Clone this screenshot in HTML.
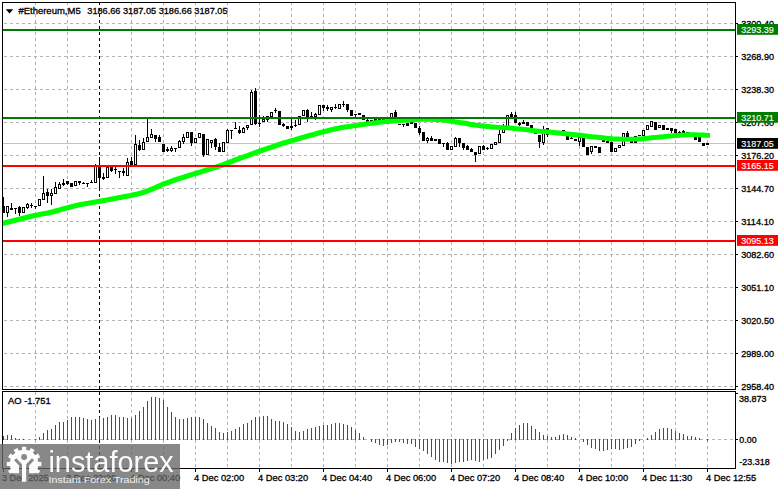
<!DOCTYPE html>
<html><head><meta charset="utf-8"><title>#Ethereum,M5</title>
<style>
html,body{margin:0;padding:0;background:#fff;}
body{width:781px;height:489px;overflow:hidden;font-family:"Liberation Sans",sans-serif;}
svg{display:block;}
svg text{font-family:"Liberation Sans",sans-serif;}
</style></head><body>
<svg width="781" height="489" viewBox="0 0 781 489">
<rect x="0" y="0" width="781" height="489" fill="#fff"/>
<g stroke="#b2b2b2" stroke-width="1" fill="none" shape-rendering="crispEdges">
<line x1="4" y1="23.5" x2="735" y2="23.5" stroke-dasharray="3 3"/>
<line x1="4" y1="56.5" x2="735" y2="56.5" stroke-dasharray="3 3"/>
<line x1="4" y1="89.5" x2="735" y2="89.5" stroke-dasharray="3 3"/>
<line x1="4" y1="122.5" x2="735" y2="122.5" stroke-dasharray="3 3"/>
<line x1="4" y1="155.5" x2="735" y2="155.5" stroke-dasharray="3 3"/>
<line x1="4" y1="188.5" x2="735" y2="188.5" stroke-dasharray="3 3"/>
<line x1="4" y1="221.5" x2="735" y2="221.5" stroke-dasharray="3 3"/>
<line x1="4" y1="254.5" x2="735" y2="254.5" stroke-dasharray="3 3"/>
<line x1="4" y1="287.5" x2="735" y2="287.5" stroke-dasharray="3 3"/>
<line x1="4" y1="320.5" x2="735" y2="320.5" stroke-dasharray="3 3"/>
<line x1="4" y1="353.5" x2="735" y2="353.5" stroke-dasharray="3 3"/>
<line x1="4" y1="386.5" x2="735" y2="386.5" stroke-dasharray="3 3"/>
<line x1="4" y1="439.5" x2="735" y2="439.5" stroke-dasharray="3 3"/>
<line x1="35.5" y1="2" x2="35.5" y2="389" stroke-dasharray="3 3"/>
<line x1="35.5" y1="392" x2="35.5" y2="468" stroke-dasharray="3 3"/>
<line x1="67.5" y1="2" x2="67.5" y2="389" stroke-dasharray="3 3"/>
<line x1="67.5" y1="392" x2="67.5" y2="468" stroke-dasharray="3 3"/>
<line x1="131.5" y1="2" x2="131.5" y2="389" stroke-dasharray="3 3"/>
<line x1="131.5" y1="392" x2="131.5" y2="468" stroke-dasharray="3 3"/>
<line x1="163.5" y1="2" x2="163.5" y2="389" stroke-dasharray="3 3"/>
<line x1="163.5" y1="392" x2="163.5" y2="468" stroke-dasharray="3 3"/>
<line x1="195.5" y1="2" x2="195.5" y2="389" stroke-dasharray="3 3"/>
<line x1="195.5" y1="392" x2="195.5" y2="468" stroke-dasharray="3 3"/>
<line x1="227.5" y1="2" x2="227.5" y2="389" stroke-dasharray="3 3"/>
<line x1="227.5" y1="392" x2="227.5" y2="468" stroke-dasharray="3 3"/>
<line x1="259.5" y1="2" x2="259.5" y2="389" stroke-dasharray="3 3"/>
<line x1="259.5" y1="392" x2="259.5" y2="468" stroke-dasharray="3 3"/>
<line x1="291.5" y1="2" x2="291.5" y2="389" stroke-dasharray="3 3"/>
<line x1="291.5" y1="392" x2="291.5" y2="468" stroke-dasharray="3 3"/>
<line x1="323.5" y1="2" x2="323.5" y2="389" stroke-dasharray="3 3"/>
<line x1="323.5" y1="392" x2="323.5" y2="468" stroke-dasharray="3 3"/>
<line x1="355.5" y1="2" x2="355.5" y2="389" stroke-dasharray="3 3"/>
<line x1="355.5" y1="392" x2="355.5" y2="468" stroke-dasharray="3 3"/>
<line x1="387.5" y1="2" x2="387.5" y2="389" stroke-dasharray="3 3"/>
<line x1="387.5" y1="392" x2="387.5" y2="468" stroke-dasharray="3 3"/>
<line x1="419.5" y1="2" x2="419.5" y2="389" stroke-dasharray="3 3"/>
<line x1="419.5" y1="392" x2="419.5" y2="468" stroke-dasharray="3 3"/>
<line x1="451.5" y1="2" x2="451.5" y2="389" stroke-dasharray="3 3"/>
<line x1="451.5" y1="392" x2="451.5" y2="468" stroke-dasharray="3 3"/>
<line x1="483.5" y1="2" x2="483.5" y2="389" stroke-dasharray="3 3"/>
<line x1="483.5" y1="392" x2="483.5" y2="468" stroke-dasharray="3 3"/>
<line x1="515.5" y1="2" x2="515.5" y2="389" stroke-dasharray="3 3"/>
<line x1="515.5" y1="392" x2="515.5" y2="468" stroke-dasharray="3 3"/>
<line x1="547.5" y1="2" x2="547.5" y2="389" stroke-dasharray="3 3"/>
<line x1="547.5" y1="392" x2="547.5" y2="468" stroke-dasharray="3 3"/>
<line x1="579.5" y1="2" x2="579.5" y2="389" stroke-dasharray="3 3"/>
<line x1="579.5" y1="392" x2="579.5" y2="468" stroke-dasharray="3 3"/>
<line x1="611.5" y1="2" x2="611.5" y2="389" stroke-dasharray="3 3"/>
<line x1="611.5" y1="392" x2="611.5" y2="468" stroke-dasharray="3 3"/>
<line x1="643.5" y1="2" x2="643.5" y2="389" stroke-dasharray="3 3"/>
<line x1="643.5" y1="392" x2="643.5" y2="468" stroke-dasharray="3 3"/>
<line x1="675.5" y1="2" x2="675.5" y2="389" stroke-dasharray="3 3"/>
<line x1="675.5" y1="392" x2="675.5" y2="468" stroke-dasharray="3 3"/>
<line x1="707.5" y1="2" x2="707.5" y2="389" stroke-dasharray="3 3"/>
<line x1="707.5" y1="392" x2="707.5" y2="468" stroke-dasharray="3 3"/>
</g>
<g stroke="#000" stroke-width="1" shape-rendering="crispEdges"><line x1="99.5" y1="2" x2="99.5" y2="389" stroke-dasharray="3 3"/><line x1="99.5" y1="392" x2="99.5" y2="468" stroke-dasharray="3 3"/></g>
<rect x="3" y="143" width="732" height="1" fill="#c4c4c4"/>
<g fill="#000" shape-rendering="crispEdges">
<rect x="3" y="197" width="1" height="16"/><rect x="2" y="206" width="3" height="7"/>
<rect x="7" y="206" width="1" height="11"/><rect x="6" y="206" width="3" height="7"/><rect x="7" y="207" width="1" height="5" fill="#fff"/>
<rect x="11" y="203" width="1" height="7"/><rect x="10" y="208" width="3" height="2"/>
<rect x="15" y="208" width="1" height="6"/><rect x="14" y="208" width="3" height="1"/>
<rect x="19" y="206" width="1" height="10"/><rect x="18" y="207" width="3" height="6"/>
<rect x="23" y="207" width="1" height="6"/><rect x="22" y="207" width="3" height="6"/><rect x="23" y="208" width="1" height="4" fill="#fff"/>
<rect x="27" y="203" width="1" height="6"/><rect x="26" y="204" width="3" height="4"/><rect x="27" y="205" width="1" height="2" fill="#fff"/>
<rect x="31" y="203" width="1" height="5"/><rect x="30" y="205" width="3" height="1"/>
<rect x="35" y="206" width="1" height="3"/><rect x="34" y="206" width="3" height="1"/>
<rect x="39" y="199" width="1" height="7"/><rect x="38" y="199" width="3" height="7"/><rect x="39" y="200" width="1" height="5" fill="#fff"/>
<rect x="43" y="176" width="1" height="24"/><rect x="42" y="193" width="3" height="7"/><rect x="43" y="194" width="1" height="5" fill="#fff"/>
<rect x="47" y="189" width="1" height="14"/><rect x="46" y="192" width="3" height="4"/>
<rect x="51" y="189" width="1" height="16"/><rect x="50" y="193" width="3" height="3"/><rect x="51" y="194" width="1" height="1" fill="#fff"/>
<rect x="55" y="182" width="1" height="12"/><rect x="54" y="187" width="3" height="7"/><rect x="55" y="188" width="1" height="5" fill="#fff"/>
<rect x="59" y="182" width="1" height="7"/><rect x="58" y="184" width="3" height="5"/><rect x="59" y="185" width="1" height="3" fill="#fff"/>
<rect x="63" y="179" width="1" height="7"/><rect x="62" y="183" width="3" height="2"/>
<rect x="67" y="181" width="1" height="4"/><rect x="66" y="181" width="3" height="3"/>
<rect x="71" y="183" width="1" height="4"/><rect x="70" y="183" width="3" height="4"/>
<rect x="75" y="181" width="1" height="5"/><rect x="74" y="181" width="3" height="5"/><rect x="75" y="182" width="1" height="3" fill="#fff"/>
<rect x="79" y="181" width="1" height="4"/><rect x="78" y="181" width="3" height="2"/>
<rect x="83" y="182" width="1" height="2"/><rect x="82" y="183" width="3" height="1"/>
<rect x="87" y="183" width="1" height="4"/><rect x="86" y="183" width="3" height="1"/>
<rect x="91" y="180" width="1" height="3"/><rect x="90" y="182" width="3" height="1"/>
<rect x="95" y="164" width="1" height="19"/><rect x="94" y="165" width="3" height="18"/><rect x="95" y="166" width="1" height="16" fill="#fff"/>
<rect x="99" y="157" width="1" height="34"/><rect x="98" y="167" width="3" height="11"/>
<rect x="103" y="173" width="1" height="7"/><rect x="102" y="177" width="3" height="2"/>
<rect x="107" y="167" width="1" height="11"/><rect x="106" y="167" width="3" height="11"/><rect x="107" y="168" width="1" height="9" fill="#fff"/>
<rect x="111" y="167" width="1" height="5"/><rect x="110" y="167" width="3" height="4"/>
<rect x="115" y="167" width="1" height="7"/><rect x="114" y="169" width="3" height="1"/>
<rect x="119" y="171" width="1" height="7"/><rect x="118" y="171" width="3" height="1"/>
<rect x="123" y="168" width="1" height="8"/><rect x="122" y="171" width="3" height="2"/>
<rect x="127" y="158" width="1" height="18"/><rect x="126" y="162" width="3" height="14"/><rect x="127" y="163" width="1" height="12" fill="#fff"/>
<rect x="131" y="157" width="1" height="10"/><rect x="130" y="161" width="3" height="4"/>
<rect x="135" y="135" width="1" height="30"/><rect x="134" y="144" width="3" height="21"/><rect x="135" y="145" width="1" height="19" fill="#fff"/>
<rect x="139" y="140" width="1" height="11"/><rect x="138" y="145" width="3" height="5"/>
<rect x="143" y="138" width="1" height="12"/><rect x="142" y="142" width="3" height="8"/><rect x="143" y="143" width="1" height="6" fill="#fff"/>
<rect x="147" y="119" width="1" height="23"/><rect x="146" y="137" width="3" height="5"/><rect x="147" y="138" width="1" height="3" fill="#fff"/>
<rect x="151" y="129" width="1" height="9"/><rect x="150" y="134" width="3" height="4"/><rect x="151" y="135" width="1" height="2" fill="#fff"/>
<rect x="155" y="135" width="1" height="7"/><rect x="154" y="135" width="3" height="4"/>
<rect x="159" y="135" width="1" height="7"/><rect x="158" y="137" width="3" height="5"/>
<rect x="163" y="144" width="1" height="8"/><rect x="162" y="144" width="3" height="8"/>
<rect x="167" y="147" width="1" height="5"/><rect x="166" y="149" width="3" height="2"/>
<rect x="171" y="146" width="1" height="6"/><rect x="170" y="148" width="3" height="3"/><rect x="171" y="149" width="1" height="1" fill="#fff"/>
<rect x="175" y="148" width="1" height="4"/><rect x="174" y="148" width="3" height="1"/>
<rect x="179" y="140" width="1" height="8"/><rect x="178" y="141" width="3" height="7"/><rect x="179" y="142" width="1" height="5" fill="#fff"/>
<rect x="183" y="134" width="1" height="10"/><rect x="182" y="137" width="3" height="5"/><rect x="183" y="138" width="1" height="3" fill="#fff"/>
<rect x="187" y="132" width="1" height="6"/><rect x="186" y="132" width="3" height="6"/><rect x="187" y="133" width="1" height="4" fill="#fff"/>
<rect x="191" y="132" width="1" height="14"/><rect x="190" y="132" width="3" height="11"/>
<rect x="195" y="138" width="1" height="5"/><rect x="194" y="138" width="3" height="5"/><rect x="195" y="139" width="1" height="3" fill="#fff"/>
<rect x="199" y="133" width="1" height="5"/><rect x="198" y="133" width="3" height="5"/><rect x="199" y="134" width="1" height="3" fill="#fff"/>
<rect x="203" y="134" width="1" height="23"/><rect x="202" y="134" width="3" height="21"/>
<rect x="207" y="139" width="1" height="16"/><rect x="206" y="139" width="3" height="16"/><rect x="207" y="140" width="1" height="14" fill="#fff"/>
<rect x="211" y="140" width="1" height="8"/><rect x="210" y="140" width="3" height="3"/><rect x="211" y="141" width="1" height="1" fill="#fff"/>
<rect x="215" y="138" width="1" height="12"/><rect x="214" y="139" width="3" height="8"/>
<rect x="219" y="143" width="1" height="9"/><rect x="218" y="147" width="3" height="5"/>
<rect x="223" y="142" width="1" height="10"/><rect x="222" y="142" width="3" height="10"/><rect x="223" y="143" width="1" height="8" fill="#fff"/>
<rect x="227" y="129" width="1" height="14"/><rect x="226" y="130" width="3" height="13"/><rect x="227" y="131" width="1" height="11" fill="#fff"/>
<rect x="231" y="130" width="1" height="9"/><rect x="230" y="130" width="3" height="1"/>
<rect x="235" y="122" width="1" height="7"/><rect x="234" y="128" width="3" height="1"/>
<rect x="239" y="126" width="1" height="8"/><rect x="238" y="130" width="3" height="3"/>
<rect x="243" y="127" width="1" height="6"/><rect x="242" y="128" width="3" height="5"/><rect x="243" y="129" width="1" height="3" fill="#fff"/>
<rect x="247" y="125" width="1" height="5"/><rect x="246" y="125" width="3" height="3"/><rect x="247" y="126" width="1" height="1" fill="#fff"/>
<rect x="251" y="90" width="1" height="35"/><rect x="250" y="92" width="3" height="33"/><rect x="251" y="93" width="1" height="31" fill="#fff"/>
<rect x="255" y="88" width="1" height="37"/><rect x="254" y="91" width="3" height="33"/>
<rect x="259" y="115" width="1" height="12"/><rect x="258" y="123" width="3" height="1"/>
<rect x="263" y="116" width="1" height="6"/><rect x="262" y="119" width="3" height="3"/><rect x="263" y="120" width="1" height="1" fill="#fff"/>
<rect x="267" y="116" width="1" height="6"/><rect x="266" y="116" width="3" height="4"/><rect x="267" y="117" width="1" height="2" fill="#fff"/>
<rect x="271" y="112" width="1" height="5"/><rect x="270" y="112" width="3" height="5"/><rect x="271" y="113" width="1" height="3" fill="#fff"/>
<rect x="275" y="108" width="1" height="5"/><rect x="274" y="110" width="3" height="1"/>
<rect x="279" y="111" width="1" height="14"/><rect x="278" y="111" width="3" height="14"/>
<rect x="283" y="123" width="1" height="4"/><rect x="282" y="124" width="3" height="2"/>
<rect x="287" y="126" width="1" height="3"/><rect x="286" y="126" width="3" height="3"/>
<rect x="291" y="119" width="1" height="11"/><rect x="290" y="126" width="3" height="2"/>
<rect x="295" y="120" width="1" height="7"/><rect x="294" y="125" width="3" height="1"/>
<rect x="299" y="116" width="1" height="9"/><rect x="298" y="116" width="3" height="9"/><rect x="299" y="117" width="1" height="7" fill="#fff"/>
<rect x="303" y="110" width="1" height="6"/><rect x="302" y="110" width="3" height="6"/><rect x="303" y="111" width="1" height="4" fill="#fff"/>
<rect x="307" y="109" width="1" height="13"/><rect x="306" y="110" width="3" height="7"/>
<rect x="311" y="112" width="1" height="5"/><rect x="310" y="116" width="3" height="1"/>
<rect x="315" y="113" width="1" height="7"/><rect x="314" y="114" width="3" height="3"/><rect x="315" y="115" width="1" height="1" fill="#fff"/>
<rect x="319" y="105" width="1" height="10"/><rect x="318" y="105" width="3" height="10"/><rect x="319" y="106" width="1" height="8" fill="#fff"/>
<rect x="323" y="105" width="1" height="6"/><rect x="322" y="105" width="3" height="3"/>
<rect x="327" y="105" width="1" height="6"/><rect x="326" y="107" width="3" height="2"/>
<rect x="331" y="107" width="1" height="5"/><rect x="330" y="107" width="3" height="3"/><rect x="331" y="108" width="1" height="1" fill="#fff"/>
<rect x="335" y="104" width="1" height="5"/><rect x="334" y="107" width="3" height="1"/>
<rect x="339" y="104" width="1" height="5"/><rect x="338" y="104" width="3" height="5"/><rect x="339" y="105" width="1" height="3" fill="#fff"/>
<rect x="343" y="101" width="1" height="6"/><rect x="342" y="104" width="3" height="1"/>
<rect x="347" y="104" width="1" height="8"/><rect x="346" y="104" width="3" height="6"/>
<rect x="351" y="110" width="1" height="6"/><rect x="350" y="110" width="3" height="6"/>
<rect x="355" y="114" width="1" height="3"/><rect x="354" y="114" width="3" height="1"/>
<rect x="359" y="113" width="1" height="2"/><rect x="358" y="113" width="3" height="2"/>
<rect x="363" y="115" width="1" height="5"/><rect x="362" y="115" width="3" height="5"/>
<rect x="367" y="119" width="1" height="3"/><rect x="366" y="120" width="3" height="2"/>
<rect x="371" y="120" width="1" height="2"/><rect x="370" y="120" width="3" height="2"/>
<rect x="375" y="119" width="1" height="2"/><rect x="374" y="119" width="3" height="2"/>
<rect x="379" y="119" width="1" height="1"/><rect x="378" y="119" width="3" height="1"/>
<rect x="383" y="119" width="1" height="1"/><rect x="382" y="119" width="3" height="1"/>
<rect x="387" y="119" width="1" height="1"/><rect x="386" y="119" width="3" height="1"/>
<rect x="391" y="113" width="1" height="6"/><rect x="390" y="113" width="3" height="6"/><rect x="391" y="114" width="1" height="4" fill="#fff"/>
<rect x="395" y="110" width="1" height="8"/><rect x="394" y="112" width="3" height="6"/>
<rect x="399" y="124" width="1" height="1"/><rect x="398" y="124" width="3" height="1"/>
<rect x="403" y="124" width="1" height="3"/><rect x="402" y="124" width="3" height="1"/>
<rect x="407" y="123" width="1" height="3"/><rect x="406" y="123" width="3" height="3"/>
<rect x="411" y="122" width="1" height="2"/><rect x="410" y="122" width="3" height="2"/>
<rect x="415" y="123" width="1" height="5"/><rect x="414" y="123" width="3" height="5"/>
<rect x="419" y="126" width="1" height="9"/><rect x="418" y="128" width="3" height="5"/>
<rect x="423" y="132" width="1" height="9"/><rect x="422" y="132" width="3" height="9"/>
<rect x="427" y="137" width="1" height="6"/><rect x="426" y="138" width="3" height="3"/><rect x="427" y="139" width="1" height="1" fill="#fff"/>
<rect x="431" y="136" width="1" height="5"/><rect x="430" y="138" width="3" height="3"/>
<rect x="435" y="139" width="1" height="2"/><rect x="434" y="139" width="3" height="2"/>
<rect x="439" y="139" width="1" height="5"/><rect x="438" y="139" width="3" height="5"/>
<rect x="443" y="143" width="1" height="4"/><rect x="442" y="143" width="3" height="1"/>
<rect x="447" y="142" width="1" height="8"/><rect x="446" y="143" width="3" height="7"/>
<rect x="451" y="146" width="1" height="4"/><rect x="450" y="146" width="3" height="4"/><rect x="451" y="147" width="1" height="2" fill="#fff"/>
<rect x="455" y="137" width="1" height="10"/><rect x="454" y="138" width="3" height="9"/><rect x="455" y="139" width="1" height="7" fill="#fff"/>
<rect x="459" y="138" width="1" height="9"/><rect x="458" y="138" width="3" height="5"/>
<rect x="463" y="143" width="1" height="7"/><rect x="462" y="143" width="3" height="5"/>
<rect x="467" y="145" width="1" height="5"/><rect x="466" y="146" width="3" height="4"/>
<rect x="471" y="148" width="1" height="4"/><rect x="470" y="149" width="3" height="3"/>
<rect x="475" y="152" width="1" height="10"/><rect x="474" y="152" width="3" height="3"/>
<rect x="479" y="146" width="1" height="8"/><rect x="478" y="146" width="3" height="8"/><rect x="479" y="147" width="1" height="6" fill="#fff"/>
<rect x="483" y="145" width="1" height="5"/><rect x="482" y="146" width="3" height="4"/>
<rect x="487" y="147" width="1" height="3"/><rect x="486" y="148" width="3" height="1"/>
<rect x="491" y="144" width="1" height="5"/><rect x="490" y="144" width="3" height="5"/><rect x="491" y="145" width="1" height="3" fill="#fff"/>
<rect x="495" y="142" width="1" height="3"/><rect x="494" y="142" width="3" height="3"/><rect x="495" y="143" width="1" height="1" fill="#fff"/>
<rect x="499" y="129" width="1" height="14"/><rect x="498" y="134" width="3" height="9"/><rect x="499" y="135" width="1" height="7" fill="#fff"/>
<rect x="503" y="124" width="1" height="9"/><rect x="502" y="126" width="3" height="7"/><rect x="503" y="127" width="1" height="5" fill="#fff"/>
<rect x="507" y="115" width="1" height="12"/><rect x="506" y="115" width="3" height="12"/><rect x="507" y="116" width="1" height="10" fill="#fff"/>
<rect x="511" y="112" width="1" height="5"/><rect x="510" y="114" width="3" height="3"/>
<rect x="515" y="112" width="1" height="11"/><rect x="514" y="115" width="3" height="8"/>
<rect x="519" y="122" width="1" height="4"/><rect x="518" y="123" width="3" height="2"/>
<rect x="523" y="120" width="1" height="4"/><rect x="522" y="122" width="3" height="2"/>
<rect x="527" y="122" width="1" height="4"/><rect x="526" y="122" width="3" height="4"/>
<rect x="531" y="125" width="1" height="3"/><rect x="530" y="125" width="3" height="3"/>
<rect x="535" y="133" width="1" height="1"/><rect x="534" y="133" width="3" height="1"/>
<rect x="539" y="135" width="1" height="13"/><rect x="538" y="135" width="3" height="7"/>
<rect x="543" y="126" width="1" height="19"/><rect x="542" y="129" width="3" height="14"/><rect x="543" y="130" width="1" height="12" fill="#fff"/>
<rect x="547" y="128" width="1" height="9"/><rect x="546" y="128" width="3" height="7"/>
<rect x="551" y="130" width="1" height="4"/><rect x="550" y="131" width="3" height="2"/>
<rect x="555" y="131" width="1" height="4"/><rect x="554" y="132" width="3" height="2"/>
<rect x="559" y="131" width="1" height="3"/><rect x="558" y="132" width="3" height="1"/>
<rect x="563" y="130" width="1" height="1"/><rect x="562" y="130" width="3" height="1"/>
<rect x="567" y="136" width="1" height="4"/><rect x="566" y="136" width="3" height="4"/>
<rect x="571" y="137" width="1" height="2"/><rect x="570" y="138" width="3" height="1"/>
<rect x="575" y="139" width="1" height="2"/><rect x="574" y="139" width="3" height="2"/>
<rect x="579" y="137" width="1" height="9"/><rect x="578" y="137" width="3" height="5"/><rect x="579" y="138" width="1" height="3" fill="#fff"/>
<rect x="583" y="138" width="1" height="9"/><rect x="582" y="138" width="3" height="9"/>
<rect x="587" y="147" width="1" height="8"/><rect x="586" y="147" width="3" height="8"/>
<rect x="591" y="146" width="1" height="8"/><rect x="590" y="146" width="3" height="6"/><rect x="591" y="147" width="1" height="4" fill="#fff"/>
<rect x="595" y="146" width="1" height="2"/><rect x="594" y="146" width="3" height="2"/>
<rect x="599" y="147" width="1" height="6"/><rect x="598" y="147" width="3" height="6"/>
<rect x="603" y="136" width="1" height="6"/><rect x="602" y="139" width="3" height="3"/>
<rect x="607" y="139" width="1" height="4"/><rect x="606" y="141" width="3" height="2"/>
<rect x="611" y="142" width="1" height="10"/><rect x="610" y="142" width="3" height="10"/>
<rect x="615" y="148" width="1" height="4"/><rect x="614" y="148" width="3" height="4"/><rect x="615" y="149" width="1" height="2" fill="#fff"/>
<rect x="619" y="145" width="1" height="3"/><rect x="618" y="145" width="3" height="3"/><rect x="619" y="146" width="1" height="1" fill="#fff"/>
<rect x="623" y="133" width="1" height="13"/><rect x="622" y="133" width="3" height="13"/><rect x="623" y="134" width="1" height="11" fill="#fff"/>
<rect x="627" y="131" width="1" height="10"/><rect x="626" y="133" width="3" height="8"/>
<rect x="631" y="139" width="1" height="4"/><rect x="630" y="141" width="3" height="2"/>
<rect x="635" y="136" width="1" height="7"/><rect x="634" y="136" width="3" height="7"/>
<rect x="639" y="135" width="1" height="1"/><rect x="638" y="135" width="3" height="1"/>
<rect x="643" y="130" width="1" height="6"/><rect x="642" y="130" width="3" height="6"/><rect x="643" y="131" width="1" height="4" fill="#fff"/>
<rect x="647" y="125" width="1" height="5"/><rect x="646" y="125" width="3" height="5"/><rect x="647" y="126" width="1" height="3" fill="#fff"/>
<rect x="651" y="121" width="1" height="6"/><rect x="650" y="121" width="3" height="6"/><rect x="651" y="122" width="1" height="4" fill="#fff"/>
<rect x="655" y="122" width="1" height="8"/><rect x="654" y="122" width="3" height="8"/>
<rect x="659" y="125" width="1" height="3"/><rect x="658" y="125" width="3" height="3"/><rect x="659" y="126" width="1" height="1" fill="#fff"/>
<rect x="663" y="125" width="1" height="5"/><rect x="662" y="125" width="3" height="5"/>
<rect x="667" y="128" width="1" height="2"/><rect x="666" y="128" width="3" height="2"/>
<rect x="671" y="128" width="1" height="5"/><rect x="670" y="128" width="3" height="3"/>
<rect x="675" y="129" width="1" height="4"/><rect x="674" y="129" width="3" height="4"/>
<rect x="679" y="131" width="1" height="4"/><rect x="678" y="132" width="3" height="2"/>
<rect x="683" y="130" width="1" height="3"/><rect x="682" y="131" width="3" height="2"/>
<rect x="687" y="132" width="1" height="3"/><rect x="686" y="132" width="3" height="3"/>
<rect x="691" y="133" width="1" height="4"/><rect x="690" y="134" width="3" height="2"/>
<rect x="695" y="137" width="1" height="3"/><rect x="694" y="137" width="3" height="3"/>
<rect x="699" y="137" width="1" height="5"/><rect x="698" y="137" width="3" height="5"/>
<rect x="703" y="143" width="1" height="3"/><rect x="702" y="143" width="3" height="3"/>
<rect x="707" y="143" width="1" height="2"/><rect x="706" y="143" width="3" height="2"/>
</g>
<polygon points="3.0,220.6 4.0,220.4 5.0,220.1 6.0,219.9 7.0,219.6 8.0,219.4 9.0,219.1 10.0,218.9 11.0,218.6 12.0,218.4 13.0,218.1 14.0,217.9 15.0,217.6 16.0,217.4 17.0,217.1 18.0,216.9 19.0,216.6 20.0,216.4 21.0,216.1 22.0,215.9 23.0,215.6 24.0,215.4 25.0,215.1 26.0,214.9 27.0,214.6 28.0,214.4 29.0,214.1 30.0,213.9 31.0,213.6 32.0,213.4 33.0,213.1 34.0,212.9 35.0,212.7 36.0,212.5 37.0,212.4 38.0,212.2 39.0,212.0 40.0,211.8 41.0,211.7 42.0,211.5 43.0,211.3 44.0,211.1 45.0,210.9 46.0,210.8 47.0,210.6 48.0,210.4 49.0,210.1 50.0,209.9 51.0,209.6 52.0,209.4 53.0,209.1 54.0,208.8 55.0,208.6 56.0,208.3 57.0,208.1 58.0,207.8 59.0,207.5 60.0,207.2 61.0,206.8 62.0,206.5 63.0,206.2 64.0,205.9 65.0,205.7 66.0,205.4 67.0,205.2 68.0,204.9 69.0,204.7 70.0,204.4 71.0,204.2 72.0,203.9 73.0,203.7 74.0,203.4 75.0,203.2 76.0,202.9 77.0,202.7 78.0,202.4 79.0,202.2 80.0,202.1 81.0,201.9 82.0,201.7 83.0,201.5 84.0,201.4 85.0,201.2 86.0,201.0 87.0,200.9 88.0,200.7 89.0,200.5 90.0,200.4 91.0,200.2 92.0,200.0 93.0,199.8 94.0,199.7 95.0,199.5 96.0,199.3 97.0,199.1 98.0,199.0 99.0,198.8 100.0,198.6 101.0,198.4 102.0,198.3 103.0,198.1 104.0,197.9 105.0,197.7 106.0,197.5 107.0,197.4 108.0,197.2 109.0,197.0 110.0,196.8 111.0,196.6 112.0,196.4 113.0,196.2 114.0,196.0 115.0,195.9 116.0,195.7 117.0,195.5 118.0,195.3 119.0,195.1 120.0,194.9 121.0,194.7 122.0,194.5 123.0,194.3 124.0,194.1 125.0,194.0 126.0,193.8 127.0,193.6 128.0,193.4 129.0,193.2 130.0,193.0 131.0,192.8 132.0,192.6 133.0,192.3 134.0,192.1 135.0,191.9 136.0,191.7 137.0,191.4 138.0,191.2 139.0,191.0 140.0,190.7 141.0,190.4 142.0,190.1 143.0,189.8 144.0,189.5 145.0,189.1 146.0,188.7 147.0,188.3 148.0,187.9 149.0,187.5 150.0,187.1 151.0,186.7 152.0,186.3 153.0,185.9 154.0,185.5 155.0,185.0 156.0,184.6 157.0,184.1 158.0,183.7 159.0,183.2 160.0,182.7 161.0,182.3 162.0,181.8 163.0,181.5 164.0,181.1 165.0,180.8 166.0,180.4 167.0,180.1 168.0,179.7 169.0,179.4 170.0,179.0 171.0,178.7 172.0,178.3 173.0,178.0 174.0,177.6 175.0,177.3 176.0,176.9 177.0,176.6 178.0,176.3 179.0,176.0 180.0,175.7 181.0,175.3 182.0,175.0 183.0,174.7 184.0,174.4 185.0,174.1 186.0,173.8 187.0,173.4 188.0,173.1 189.0,172.8 190.0,172.5 191.0,172.2 192.0,171.8 193.0,171.5 194.0,171.2 195.0,170.9 196.0,170.6 197.0,170.3 198.0,170.0 199.0,169.7 200.0,169.4 201.0,169.0 202.0,168.7 203.0,168.4 204.0,168.1 205.0,167.8 206.0,167.5 207.0,167.2 208.0,166.9 209.0,166.6 210.0,166.3 211.0,166.0 212.0,165.6 213.0,165.3 214.0,165.0 215.0,164.7 216.0,164.4 217.0,164.1 218.0,163.7 219.0,163.4 220.0,163.1 221.0,162.8 222.0,162.4 223.0,162.0 224.0,161.6 225.0,161.2 226.0,160.8 227.0,160.4 228.0,160.0 229.0,159.6 230.0,159.2 231.0,158.9 232.0,158.5 233.0,158.1 234.0,157.7 235.0,157.3 236.0,157.0 237.0,156.6 238.0,156.2 239.0,155.9 240.0,155.5 241.0,155.2 242.0,154.8 243.0,154.4 244.0,154.1 245.0,153.7 246.0,153.4 247.0,153.0 248.0,152.7 249.0,152.3 250.0,152.0 251.0,151.6 252.0,151.2 253.0,150.8 254.0,150.5 255.0,150.1 256.0,149.7 257.0,149.3 258.0,148.9 259.0,148.6 260.0,148.2 261.0,147.9 262.0,147.6 263.0,147.2 264.0,146.9 265.0,146.6 266.0,146.2 267.0,145.9 268.0,145.6 269.0,145.3 270.0,144.9 271.0,144.6 272.0,144.3 273.0,143.9 274.0,143.6 275.0,143.2 276.0,142.8 277.0,142.5 278.0,142.1 279.0,141.7 280.0,141.4 281.0,141.1 282.0,140.8 283.0,140.6 284.0,140.3 285.0,140.0 286.0,139.7 287.0,139.4 288.0,139.1 289.0,138.8 290.0,138.5 291.0,138.3 292.0,138.0 293.0,137.7 294.0,137.4 295.0,137.1 296.0,136.8 297.0,136.5 298.0,136.2 299.0,135.9 300.0,135.6 301.0,135.3 302.0,135.0 303.0,134.7 304.0,134.4 305.0,134.1 306.0,133.8 307.0,133.5 308.0,133.3 309.0,133.0 310.0,132.7 311.0,132.5 312.0,132.2 313.0,131.9 314.0,131.7 315.0,131.4 316.0,131.1 317.0,130.8 318.0,130.6 319.0,130.3 320.0,130.0 321.0,129.8 322.0,129.5 323.0,129.3 324.0,129.0 325.0,128.8 326.0,128.5 327.0,128.3 328.0,128.0 329.0,127.8 330.0,127.6 331.0,127.3 332.0,127.1 333.0,126.8 334.0,126.6 335.0,126.3 336.0,126.1 337.0,125.9 338.0,125.7 339.0,125.5 340.0,125.3 341.0,125.1 342.0,124.9 343.0,124.7 344.0,124.6 345.0,124.4 346.0,124.3 347.0,124.2 348.0,124.0 349.0,123.9 350.0,123.8 351.0,123.7 352.0,123.5 353.0,123.4 354.0,123.3 355.0,123.1 356.0,123.0 357.0,122.8 358.0,122.7 359.0,122.5 360.0,122.4 361.0,122.2 362.0,122.1 363.0,121.9 364.0,121.7 365.0,121.6 366.0,121.4 367.0,121.3 368.0,121.2 369.0,121.0 370.0,120.9 371.0,120.8 372.0,120.7 373.0,120.5 374.0,120.4 375.0,120.3 376.0,120.2 377.0,120.1 378.0,119.9 379.0,119.8 380.0,119.7 381.0,119.6 382.0,119.5 383.0,119.4 384.0,119.3 385.0,119.2 386.0,119.1 387.0,119.1 388.0,119.0 389.0,118.9 390.0,118.8 391.0,118.7 392.0,118.7 393.0,118.6 394.0,118.5 395.0,118.4 396.0,118.3 397.0,118.3 398.0,118.2 399.0,118.1 400.0,118.0 401.0,118.0 402.0,117.9 403.0,117.9 404.0,117.8 405.0,117.8 406.0,117.7 407.0,117.7 408.0,117.6 409.0,117.6 410.0,117.5 411.0,117.5 412.0,117.4 413.0,117.3 414.0,117.3 415.0,117.2 416.0,117.2 417.0,117.1 418.0,117.0 419.0,117.0 420.0,117.0 421.0,117.0 422.0,117.0 423.0,117.0 424.0,117.0 425.0,117.0 426.0,117.0 427.0,117.0 428.0,117.0 429.0,117.0 430.0,117.0 431.0,117.0 432.0,117.0 433.0,117.0 434.0,117.0 435.0,117.1 436.0,117.1 437.0,117.2 438.0,117.2 439.0,117.3 440.0,117.4 441.0,117.4 442.0,117.5 443.0,117.5 444.0,117.6 445.0,117.6 446.0,117.7 447.0,117.9 448.0,118.0 449.0,118.2 450.0,118.4 451.0,118.6 452.0,118.7 453.0,118.9 454.0,119.1 455.0,119.2 456.0,119.4 457.0,119.6 458.0,119.8 459.0,119.9 460.0,120.0 461.0,120.2 462.0,120.3 463.0,120.4 464.0,120.6 465.0,120.7 466.0,120.8 467.0,121.0 468.0,121.2 469.0,121.5 470.0,121.7 471.0,121.9 472.0,122.1 473.0,122.3 474.0,122.4 475.0,122.5 476.0,122.7 477.0,122.8 478.0,122.9 479.0,123.0 480.0,123.2 481.0,123.3 482.0,123.4 483.0,123.5 484.0,123.6 485.0,123.7 486.0,123.8 487.0,123.9 488.0,124.0 489.0,124.1 490.0,124.2 491.0,124.3 492.0,124.4 493.0,124.5 494.0,124.6 495.0,124.7 496.0,124.8 497.0,124.8 498.0,124.9 499.0,125.0 500.0,125.0 501.0,125.1 502.0,125.1 503.0,125.2 504.0,125.2 505.0,125.3 506.0,125.3 507.0,125.4 508.0,125.4 509.0,125.5 510.0,125.5 511.0,125.6 512.0,125.7 513.0,125.8 514.0,125.9 515.0,126.0 516.0,126.2 517.0,126.3 518.0,126.3 519.0,126.4 520.0,126.5 521.0,126.6 522.0,126.7 523.0,126.8 524.0,126.9 525.0,127.0 526.0,127.1 527.0,127.2 528.0,127.3 529.0,127.5 530.0,127.6 531.0,127.8 532.0,127.9 533.0,128.0 534.0,128.2 535.0,128.3 536.0,128.5 537.0,128.6 538.0,128.7 539.0,128.7 540.0,128.8 541.0,128.9 542.0,128.9 543.0,129.0 544.0,129.1 545.0,129.2 546.0,129.2 547.0,129.3 548.0,129.4 549.0,129.5 550.0,129.6 551.0,129.7 552.0,129.8 553.0,129.9 554.0,130.0 555.0,130.1 556.0,130.2 557.0,130.3 558.0,130.4 559.0,130.5 560.0,130.6 561.0,130.7 562.0,130.8 563.0,130.9 564.0,131.1 565.0,131.2 566.0,131.3 567.0,131.4 568.0,131.5 569.0,131.6 570.0,131.7 571.0,131.8 572.0,131.9 573.0,132.0 574.0,132.1 575.0,132.2 576.0,132.3 577.0,132.4 578.0,132.5 579.0,132.6 580.0,132.7 581.0,132.8 582.0,132.9 583.0,133.1 584.0,133.2 585.0,133.4 586.0,133.5 587.0,133.6 588.0,133.8 589.0,133.9 590.0,134.1 591.0,134.2 592.0,134.3 593.0,134.4 594.0,134.4 595.0,134.5 596.0,134.6 597.0,134.7 598.0,134.8 599.0,134.9 600.0,135.0 601.0,135.1 602.0,135.2 603.0,135.3 604.0,135.4 605.0,135.6 606.0,135.7 607.0,135.8 608.0,135.9 609.0,136.0 610.0,136.1 611.0,136.2 612.0,136.3 613.0,136.4 614.0,136.5 615.0,136.5 616.0,136.5 617.0,136.6 618.0,136.6 619.0,136.6 620.0,136.7 621.0,136.7 622.0,136.8 623.0,136.8 624.0,136.8 625.0,136.9 626.0,136.9 627.0,136.9 628.0,136.9 629.0,136.9 630.0,136.8 631.0,136.8 632.0,136.8 633.0,136.8 634.0,136.8 635.0,136.8 636.0,136.8 637.0,136.7 638.0,136.6 639.0,136.6 640.0,136.5 641.0,136.4 642.0,136.3 643.0,136.2 644.0,136.1 645.0,136.0 646.0,135.9 647.0,135.8 648.0,135.7 649.0,135.6 650.0,135.5 651.0,135.3 652.0,135.2 653.0,135.1 654.0,135.0 655.0,134.9 656.0,134.9 657.0,134.8 658.0,134.7 659.0,134.6 660.0,134.5 661.0,134.4 662.0,134.3 663.0,134.2 664.0,134.1 665.0,134.0 666.0,133.9 667.0,133.8 668.0,133.7 669.0,133.6 670.0,133.5 671.0,133.4 672.0,133.3 673.0,133.2 674.0,133.1 675.0,133.1 676.0,133.0 677.0,132.9 678.0,132.9 679.0,132.8 680.0,132.7 681.0,132.7 682.0,132.6 683.0,132.5 684.0,132.5 685.0,132.4 686.0,132.3 687.0,132.3 688.0,132.2 689.0,132.2 690.0,132.2 691.0,132.2 692.0,132.2 693.0,132.3 694.0,132.3 695.0,132.3 696.0,132.3 697.0,132.3 698.0,132.4 699.0,132.4 700.0,132.4 701.0,132.4 702.0,132.5 703.0,132.6 704.0,132.6 705.0,132.7 706.0,132.7 707.0,132.8 708.0,132.9 709.0,132.9 710.0,132.9 710.0,137.7 709.0,137.7 708.0,137.7 707.0,137.7 706.0,137.7 705.0,137.6 704.0,137.5 703.0,137.5 702.0,137.4 701.0,137.4 700.0,137.3 699.0,137.2 698.0,137.2 697.0,137.2 696.0,137.2 695.0,137.1 694.0,137.1 693.0,137.1 692.0,137.1 691.0,137.1 690.0,137.0 689.0,137.1 688.0,137.1 687.0,137.2 686.0,137.3 685.0,137.3 684.0,137.4 683.0,137.5 682.0,137.5 681.0,137.6 680.0,137.7 679.0,137.7 678.0,137.8 677.0,137.9 676.0,137.9 675.0,138.0 674.0,138.1 673.0,138.2 672.0,138.3 671.0,138.4 670.0,138.5 669.0,138.6 668.0,138.7 667.0,138.8 666.0,138.9 665.0,139.0 664.0,139.1 663.0,139.2 662.0,139.3 661.0,139.4 660.0,139.5 659.0,139.6 658.0,139.7 657.0,139.7 656.0,139.8 655.0,139.9 654.0,140.0 653.0,140.1 652.0,140.3 651.0,140.4 650.0,140.5 649.0,140.6 648.0,140.7 647.0,140.8 646.0,140.9 645.0,141.0 644.0,141.1 643.0,141.2 642.0,141.3 641.0,141.4 640.0,141.4 639.0,141.5 638.0,141.6 637.0,141.6 636.0,141.6 635.0,141.6 634.0,141.6 633.0,141.6 632.0,141.6 631.0,141.7 630.0,141.7 629.0,141.7 628.0,141.7 627.0,141.7 626.0,141.7 625.0,141.7 624.0,141.7 623.0,141.7 622.0,141.6 621.0,141.6 620.0,141.6 619.0,141.5 618.0,141.5 617.0,141.4 616.0,141.4 615.0,141.4 614.0,141.3 613.0,141.3 612.0,141.3 611.0,141.2 610.0,141.1 609.0,141.0 608.0,140.9 607.0,140.8 606.0,140.7 605.0,140.6 604.0,140.5 603.0,140.4 602.0,140.2 601.0,140.1 600.0,140.0 599.0,139.9 598.0,139.8 597.0,139.7 596.0,139.6 595.0,139.5 594.0,139.4 593.0,139.3 592.0,139.2 591.0,139.2 590.0,139.1 589.0,139.0 588.0,138.9 587.0,138.7 586.0,138.6 585.0,138.4 584.0,138.3 583.0,138.2 582.0,138.0 581.0,137.9 580.0,137.7 579.0,137.6 578.0,137.5 577.0,137.4 576.0,137.3 575.0,137.2 574.0,137.1 573.0,137.0 572.0,136.9 571.0,136.8 570.0,136.7 569.0,136.6 568.0,136.5 567.0,136.4 566.0,136.3 565.0,136.2 564.0,136.1 563.0,136.0 562.0,135.9 561.0,135.7 560.0,135.6 559.0,135.5 558.0,135.4 557.0,135.3 556.0,135.2 555.0,135.1 554.0,135.0 553.0,134.9 552.0,134.8 551.0,134.7 550.0,134.6 549.0,134.5 548.0,134.4 547.0,134.3 546.0,134.2 545.0,134.1 544.0,134.0 543.0,134.0 542.0,133.9 541.0,133.8 540.0,133.7 539.0,133.7 538.0,133.6 537.0,133.5 536.0,133.5 535.0,133.4 534.0,133.3 533.0,133.1 532.0,133.0 531.0,132.8 530.0,132.7 529.0,132.6 528.0,132.4 527.0,132.3 526.0,132.1 525.0,132.0 524.0,131.9 523.0,131.8 522.0,131.7 521.0,131.6 520.0,131.5 519.0,131.4 518.0,131.3 517.0,131.2 516.0,131.1 515.0,131.1 514.0,131.0 513.0,130.8 512.0,130.7 511.0,130.6 510.0,130.5 509.0,130.4 508.0,130.3 507.0,130.3 506.0,130.2 505.0,130.2 504.0,130.1 503.0,130.1 502.0,130.0 501.0,130.0 500.0,129.9 499.0,129.9 498.0,129.8 497.0,129.8 496.0,129.7 495.0,129.6 494.0,129.6 493.0,129.5 492.0,129.4 491.0,129.3 490.0,129.2 489.0,129.1 488.0,129.0 487.0,128.9 486.0,128.8 485.0,128.7 484.0,128.6 483.0,128.5 482.0,128.4 481.0,128.3 480.0,128.2 479.0,128.1 478.0,128.0 477.0,127.8 476.0,127.7 475.0,127.6 474.0,127.5 473.0,127.3 472.0,127.2 471.0,127.1 470.0,126.9 469.0,126.7 468.0,126.5 467.0,126.3 466.0,126.0 465.0,125.8 464.0,125.6 463.0,125.5 462.0,125.4 461.0,125.2 460.0,125.1 459.0,125.0 458.0,124.8 457.0,124.7 456.0,124.6 455.0,124.4 454.0,124.2 453.0,124.0 452.0,123.9 451.0,123.7 450.0,123.5 449.0,123.4 448.0,123.2 447.0,123.0 446.0,122.8 445.0,122.7 444.0,122.5 443.0,122.4 442.0,122.4 441.0,122.3 440.0,122.3 439.0,122.2 438.0,122.2 437.0,122.1 436.0,122.0 435.0,122.0 434.0,121.9 433.0,121.9 432.0,121.8 431.0,121.8 430.0,121.8 429.0,121.8 428.0,121.8 427.0,121.8 426.0,121.8 425.0,121.8 424.0,121.8 423.0,121.8 422.0,121.8 421.0,121.8 420.0,121.8 419.0,121.9 418.0,122.0 417.0,122.0 416.0,122.1 415.0,122.1 414.0,122.2 413.0,122.3 412.0,122.3 411.0,122.4 410.0,122.4 409.0,122.5 408.0,122.5 407.0,122.6 406.0,122.6 405.0,122.7 404.0,122.7 403.0,122.8 402.0,122.8 401.0,122.9 400.0,123.0 399.0,123.1 398.0,123.1 397.0,123.2 396.0,123.3 395.0,123.4 394.0,123.5 393.0,123.5 392.0,123.6 391.0,123.7 390.0,123.8 389.0,123.9 388.0,123.9 387.0,124.0 386.0,124.1 385.0,124.2 384.0,124.3 383.0,124.4 382.0,124.5 381.0,124.6 380.0,124.7 379.0,124.9 378.0,125.0 377.0,125.1 376.0,125.2 375.0,125.3 374.0,125.5 373.0,125.6 372.0,125.7 371.0,125.8 370.0,126.0 369.0,126.1 368.0,126.2 367.0,126.4 366.0,126.5 365.0,126.7 364.0,126.9 363.0,127.0 362.0,127.2 361.0,127.3 360.0,127.5 359.0,127.6 358.0,127.8 357.0,127.9 356.0,128.1 355.0,128.2 354.0,128.3 353.0,128.5 352.0,128.6 351.0,128.7 350.0,128.8 349.0,129.0 348.0,129.1 347.0,129.2 346.0,129.4 345.0,129.5 344.0,129.7 343.0,129.9 342.0,130.1 341.0,130.3 340.0,130.5 339.0,130.7 338.0,130.9 337.0,131.1 336.0,131.4 335.0,131.6 334.0,131.9 333.0,132.1 332.0,132.4 331.0,132.6 330.0,132.8 329.0,133.1 328.0,133.3 327.0,133.6 326.0,133.8 325.0,134.1 324.0,134.3 323.0,134.6 322.0,134.8 321.0,135.1 320.0,135.4 319.0,135.6 318.0,135.9 317.0,136.2 316.0,136.5 315.0,136.7 314.0,137.0 313.0,137.3 312.0,137.5 311.0,137.8 310.0,138.1 309.0,138.3 308.0,138.6 307.0,138.9 306.0,139.2 305.0,139.5 304.0,139.8 303.0,140.1 302.0,140.4 301.0,140.7 300.0,141.0 299.0,141.3 298.0,141.6 297.0,141.9 296.0,142.2 295.0,142.5 294.0,142.8 293.0,143.1 292.0,143.3 291.0,143.6 290.0,143.9 289.0,144.2 288.0,144.5 287.0,144.8 286.0,145.1 285.0,145.4 284.0,145.6 283.0,145.9 282.0,146.2 281.0,146.5 280.0,146.9 279.0,147.3 278.0,147.6 277.0,148.0 276.0,148.4 275.0,148.7 274.0,149.1 273.0,149.4 272.0,149.7 271.0,150.1 270.0,150.4 269.0,150.7 268.0,151.1 267.0,151.4 266.0,151.7 265.0,152.0 264.0,152.4 263.0,152.7 262.0,153.0 261.0,153.4 260.0,153.7 259.0,154.1 258.0,154.5 257.0,154.9 256.0,155.3 255.0,155.6 254.0,156.0 253.0,156.4 252.0,156.8 251.0,157.1 250.0,157.5 249.0,157.8 248.0,158.2 247.0,158.5 246.0,158.9 245.0,159.2 244.0,159.6 243.0,160.0 242.0,160.3 241.0,160.7 240.0,161.0 239.0,161.4 238.0,161.8 237.0,162.1 236.0,162.5 235.0,162.9 234.0,163.3 233.0,163.7 232.0,164.0 231.0,164.4 230.0,164.8 229.0,165.2 228.0,165.6 227.0,166.0 226.0,166.4 225.0,166.8 224.0,167.2 223.0,167.6 222.0,167.9 221.0,168.2 220.0,168.5 219.0,168.9 218.0,169.2 217.0,169.5 216.0,169.8 215.0,170.1 214.0,170.4 213.0,170.8 212.0,171.1 211.0,171.4 210.0,171.7 209.0,172.0 208.0,172.3 207.0,172.6 206.0,172.9 205.0,173.2 204.0,173.5 203.0,173.8 202.0,174.2 201.0,174.5 200.0,174.8 199.0,175.1 198.0,175.4 197.0,175.7 196.0,176.0 195.0,176.3 194.0,176.6 193.0,177.0 192.0,177.3 191.0,177.6 190.0,177.9 189.0,178.2 188.0,178.6 187.0,178.9 186.0,179.2 185.0,179.5 184.0,179.8 183.0,180.1 182.0,180.5 181.0,180.8 180.0,181.1 179.0,181.4 178.0,181.7 177.0,182.1 176.0,182.4 175.0,182.8 174.0,183.1 173.0,183.5 172.0,183.8 171.0,184.2 170.0,184.5 169.0,184.9 168.0,185.2 167.0,185.6 166.0,185.9 165.0,186.3 164.0,186.6 163.0,187.1 162.0,187.5 161.0,188.0 160.0,188.5 159.0,188.9 158.0,189.4 157.0,189.8 156.0,190.3 155.0,190.7 154.0,191.1 153.0,191.5 152.0,191.9 151.0,192.3 150.0,192.7 149.0,193.1 148.0,193.5 147.0,193.9 146.0,194.3 145.0,194.6 144.0,194.9 143.0,195.2 142.0,195.5 141.0,195.8 140.0,196.0 139.0,196.2 138.0,196.5 137.0,196.7 136.0,196.9 135.0,197.1 134.0,197.4 133.0,197.6 132.0,197.8 131.0,198.0 130.0,198.2 129.0,198.4 128.0,198.6 127.0,198.8 126.0,198.9 125.0,199.1 124.0,199.3 123.0,199.5 122.0,199.7 121.0,199.9 120.0,200.1 119.0,200.3 118.0,200.5 117.0,200.7 116.0,200.8 115.0,201.0 114.0,201.2 113.0,201.4 112.0,201.6 111.0,201.8 110.0,202.0 109.0,202.2 108.0,202.3 107.0,202.5 106.0,202.7 105.0,202.9 104.0,203.1 103.0,203.2 102.0,203.4 101.0,203.6 100.0,203.8 99.0,203.9 98.0,204.1 97.0,204.3 96.0,204.5 95.0,204.6 94.0,204.8 93.0,205.0 92.0,205.2 91.0,205.3 90.0,205.5 89.0,205.7 88.0,205.8 87.0,206.0 86.0,206.2 85.0,206.3 84.0,206.5 83.0,206.7 82.0,206.9 81.0,207.0 80.0,207.2 79.0,207.5 78.0,207.7 77.0,208.0 76.0,208.2 75.0,208.5 74.0,208.7 73.0,209.0 72.0,209.2 71.0,209.5 70.0,209.7 69.0,210.0 68.0,210.2 67.0,210.5 66.0,210.7 65.0,211.0 64.0,211.3 63.0,211.6 62.0,212.0 61.0,212.3 60.0,212.6 59.0,212.9 58.0,213.1 57.0,213.4 56.0,213.6 55.0,213.9 54.0,214.2 53.0,214.4 52.0,214.7 51.0,214.9 50.0,215.2 49.0,215.4 48.0,215.6 47.0,215.7 46.0,215.9 45.0,216.1 44.0,216.3 43.0,216.5 42.0,216.6 41.0,216.8 40.0,217.0 39.0,217.2 38.0,217.3 37.0,217.5 36.0,217.7 35.0,217.9 34.0,218.2 33.0,218.4 32.0,218.7 31.0,218.9 30.0,219.2 29.0,219.4 28.0,219.7 27.0,219.9 26.0,220.2 25.0,220.4 24.0,220.7 23.0,220.9 22.0,221.2 21.0,221.4 20.0,221.7 19.0,221.9 18.0,222.2 17.0,222.4 16.0,222.7 15.0,222.9 14.0,223.2 13.0,223.4 12.0,223.7 11.0,223.9 10.0,224.2 9.0,224.4 8.0,224.7 7.0,224.9 6.0,225.2 5.0,225.4 4.0,225.7 3.0,225.7" fill="#00ff00"/>
<rect x="3" y="29" width="733" height="2" fill="#007d00"/>
<rect x="3" y="117" width="733" height="2" fill="#007d00"/>
<rect x="3" y="165" width="733" height="2" fill="#ff0000"/>
<rect x="3" y="240" width="733" height="2" fill="#ff0000"/>
<g shape-rendering="crispEdges">
<rect x="3" y="435.7" width="1" height="4.3" fill="#008000"/>
<rect x="7" y="435.0" width="1" height="5.0" fill="#008000"/>
<rect x="11" y="435.0" width="1" height="5.0" fill="#ff0000"/>
<rect x="15" y="437.9" width="1" height="2.1" fill="#ff0000"/>
<rect x="19" y="438.7" width="1" height="1.3" fill="#ff0000"/>
<rect x="23" y="439.0" width="1" height="1.0" fill="#ff0000"/>
<rect x="35" y="438.6" width="1" height="1.4" fill="#008000"/>
<rect x="39" y="437.2" width="1" height="2.8" fill="#008000"/>
<rect x="43" y="433.3" width="1" height="6.7" fill="#008000"/>
<rect x="47" y="430.0" width="1" height="10.0" fill="#008000"/>
<rect x="51" y="429.0" width="1" height="11.0" fill="#008000"/>
<rect x="55" y="425.3" width="1" height="14.7" fill="#008000"/>
<rect x="59" y="422.1" width="1" height="17.9" fill="#008000"/>
<rect x="63" y="422.1" width="1" height="17.9" fill="#008000"/>
<rect x="67" y="420.0" width="1" height="20.0" fill="#008000"/>
<rect x="71" y="417.1" width="1" height="22.9" fill="#008000"/>
<rect x="75" y="417.1" width="1" height="22.9" fill="#008000"/>
<rect x="79" y="417.1" width="1" height="22.9" fill="#008000"/>
<rect x="83" y="418.1" width="1" height="21.9" fill="#ff0000"/>
<rect x="87" y="419.0" width="1" height="21.0" fill="#ff0000"/>
<rect x="91" y="420.0" width="1" height="20.0" fill="#ff0000"/>
<rect x="95" y="419.0" width="1" height="21.0" fill="#008000"/>
<rect x="99" y="417.1" width="1" height="22.9" fill="#008000"/>
<rect x="103" y="417.8" width="1" height="22.2" fill="#008000"/>
<rect x="107" y="417.1" width="1" height="22.9" fill="#008000"/>
<rect x="111" y="414.9" width="1" height="25.1" fill="#008000"/>
<rect x="115" y="414.9" width="1" height="25.1" fill="#ff0000"/>
<rect x="119" y="417.1" width="1" height="22.9" fill="#ff0000"/>
<rect x="123" y="417.1" width="1" height="22.9" fill="#ff0000"/>
<rect x="127" y="418.1" width="1" height="21.9" fill="#ff0000"/>
<rect x="131" y="418.1" width="1" height="21.9" fill="#ff0000"/>
<rect x="135" y="414.9" width="1" height="25.1" fill="#008000"/>
<rect x="139" y="410.9" width="1" height="29.1" fill="#008000"/>
<rect x="143" y="407.1" width="1" height="32.9" fill="#008000"/>
<rect x="147" y="401.3" width="1" height="38.7" fill="#008000"/>
<rect x="151" y="397.0" width="1" height="43.0" fill="#008000"/>
<rect x="155" y="397.0" width="1" height="43.0" fill="#008000"/>
<rect x="159" y="398.0" width="1" height="42.0" fill="#ff0000"/>
<rect x="163" y="399.9" width="1" height="40.1" fill="#ff0000"/>
<rect x="167" y="407.1" width="1" height="32.9" fill="#ff0000"/>
<rect x="171" y="412.1" width="1" height="27.9" fill="#ff0000"/>
<rect x="175" y="417.1" width="1" height="22.9" fill="#ff0000"/>
<rect x="179" y="419.0" width="1" height="21.0" fill="#ff0000"/>
<rect x="183" y="419.0" width="1" height="21.0" fill="#008000"/>
<rect x="187" y="418.1" width="1" height="21.9" fill="#008000"/>
<rect x="191" y="417.1" width="1" height="22.9" fill="#008000"/>
<rect x="195" y="416.7" width="1" height="23.3" fill="#008000"/>
<rect x="199" y="417.1" width="1" height="22.9" fill="#008000"/>
<rect x="203" y="419.0" width="1" height="21.0" fill="#ff0000"/>
<rect x="207" y="422.8" width="1" height="17.2" fill="#ff0000"/>
<rect x="211" y="426.0" width="1" height="14.0" fill="#ff0000"/>
<rect x="215" y="427.9" width="1" height="12.1" fill="#ff0000"/>
<rect x="219" y="431.9" width="1" height="8.1" fill="#ff0000"/>
<rect x="223" y="432.9" width="1" height="7.1" fill="#ff0000"/>
<rect x="227" y="432.2" width="1" height="7.8" fill="#008000"/>
<rect x="231" y="431.0" width="1" height="9.0" fill="#008000"/>
<rect x="235" y="429.0" width="1" height="11.0" fill="#008000"/>
<rect x="239" y="427.1" width="1" height="12.9" fill="#008000"/>
<rect x="243" y="424.3" width="1" height="15.7" fill="#008000"/>
<rect x="247" y="422.8" width="1" height="17.2" fill="#008000"/>
<rect x="251" y="420.0" width="1" height="20.0" fill="#008000"/>
<rect x="255" y="417.1" width="1" height="22.9" fill="#008000"/>
<rect x="259" y="416.7" width="1" height="23.3" fill="#008000"/>
<rect x="263" y="416.1" width="1" height="23.9" fill="#008000"/>
<rect x="267" y="416.1" width="1" height="23.9" fill="#008000"/>
<rect x="271" y="419.0" width="1" height="21.0" fill="#ff0000"/>
<rect x="275" y="420.7" width="1" height="19.3" fill="#ff0000"/>
<rect x="279" y="421.1" width="1" height="18.9" fill="#ff0000"/>
<rect x="283" y="421.8" width="1" height="18.2" fill="#ff0000"/>
<rect x="287" y="423.8" width="1" height="16.2" fill="#ff0000"/>
<rect x="291" y="426.8" width="1" height="13.2" fill="#ff0000"/>
<rect x="295" y="430.7" width="1" height="9.3" fill="#ff0000"/>
<rect x="299" y="431.9" width="1" height="8.1" fill="#ff0000"/>
<rect x="303" y="431.0" width="1" height="9.0" fill="#008000"/>
<rect x="307" y="429.0" width="1" height="11.0" fill="#008000"/>
<rect x="311" y="427.9" width="1" height="12.1" fill="#008000"/>
<rect x="315" y="426.8" width="1" height="13.2" fill="#008000"/>
<rect x="319" y="426.0" width="1" height="14.0" fill="#008000"/>
<rect x="323" y="425.0" width="1" height="15.0" fill="#008000"/>
<rect x="327" y="425.0" width="1" height="15.0" fill="#008000"/>
<rect x="331" y="423.8" width="1" height="16.2" fill="#008000"/>
<rect x="335" y="422.8" width="1" height="17.2" fill="#008000"/>
<rect x="339" y="422.8" width="1" height="17.2" fill="#ff0000"/>
<rect x="343" y="423.8" width="1" height="16.2" fill="#ff0000"/>
<rect x="347" y="425.0" width="1" height="15.0" fill="#ff0000"/>
<rect x="351" y="426.8" width="1" height="13.2" fill="#ff0000"/>
<rect x="355" y="430.0" width="1" height="10.0" fill="#ff0000"/>
<rect x="359" y="432.9" width="1" height="7.1" fill="#ff0000"/>
<rect x="363" y="436.9" width="1" height="3.1" fill="#ff0000"/>
<rect x="371" y="439" width="1" height="2.5" fill="#ff0000"/>
<rect x="375" y="439" width="1" height="3.5" fill="#ff0000"/>
<rect x="379" y="439" width="1" height="5.8" fill="#ff0000"/>
<rect x="383" y="439" width="1" height="6.8" fill="#ff0000"/>
<rect x="387" y="439" width="1" height="5.8" fill="#008000"/>
<rect x="391" y="439" width="1" height="3.5" fill="#008000"/>
<rect x="395" y="439" width="1" height="2.5" fill="#008000"/>
<rect x="399" y="439" width="1" height="2.5" fill="#ff0000"/>
<rect x="403" y="439" width="1" height="3.5" fill="#ff0000"/>
<rect x="407" y="439" width="1" height="4.6" fill="#ff0000"/>
<rect x="411" y="439" width="1" height="4.6" fill="#ff0000"/>
<rect x="415" y="439" width="1" height="7.5" fill="#ff0000"/>
<rect x="419" y="439" width="1" height="9.7" fill="#ff0000"/>
<rect x="423" y="439" width="1" height="11.7" fill="#ff0000"/>
<rect x="427" y="439" width="1" height="14.7" fill="#ff0000"/>
<rect x="431" y="439" width="1" height="17.6" fill="#ff0000"/>
<rect x="435" y="439" width="1" height="20.5" fill="#ff0000"/>
<rect x="439" y="439" width="1" height="22.6" fill="#ff0000"/>
<rect x="443" y="439" width="1" height="23.3" fill="#ff0000"/>
<rect x="447" y="439" width="1" height="23.8" fill="#ff0000"/>
<rect x="451" y="439" width="1" height="24.8" fill="#ff0000"/>
<rect x="455" y="439" width="1" height="23.8" fill="#008000"/>
<rect x="459" y="439" width="1" height="23.3" fill="#008000"/>
<rect x="463" y="439" width="1" height="22.6" fill="#008000"/>
<rect x="467" y="439" width="1" height="21.9" fill="#008000"/>
<rect x="471" y="439" width="1" height="21.2" fill="#008000"/>
<rect x="475" y="439" width="1" height="21.5" fill="#ff0000"/>
<rect x="479" y="439" width="1" height="22.6" fill="#ff0000"/>
<rect x="483" y="439" width="1" height="20.9" fill="#008000"/>
<rect x="487" y="439" width="1" height="19.8" fill="#008000"/>
<rect x="491" y="439" width="1" height="18.6" fill="#008000"/>
<rect x="495" y="439" width="1" height="14.7" fill="#008000"/>
<rect x="499" y="439" width="1" height="10.9" fill="#008000"/>
<rect x="503" y="439" width="1" height="6.6" fill="#008000"/>
<rect x="507" y="439" width="1" height="1.6" fill="#008000"/>
<rect x="511" y="432.9" width="1" height="7.1" fill="#008000"/>
<rect x="515" y="427.9" width="1" height="12.1" fill="#008000"/>
<rect x="519" y="425.0" width="1" height="15.0" fill="#008000"/>
<rect x="523" y="423.1" width="1" height="16.9" fill="#008000"/>
<rect x="527" y="423.1" width="1" height="16.9" fill="#ff0000"/>
<rect x="531" y="426.1" width="1" height="13.9" fill="#ff0000"/>
<rect x="535" y="429.1" width="1" height="10.9" fill="#ff0000"/>
<rect x="539" y="431.8" width="1" height="8.2" fill="#ff0000"/>
<rect x="543" y="434.8" width="1" height="5.2" fill="#ff0000"/>
<rect x="547" y="435.9" width="1" height="4.1" fill="#ff0000"/>
<rect x="551" y="437.0" width="1" height="3.0" fill="#ff0000"/>
<rect x="555" y="437.0" width="1" height="3.0" fill="#ff0000"/>
<rect x="559" y="434.8" width="1" height="5.2" fill="#008000"/>
<rect x="563" y="434.0" width="1" height="6.0" fill="#008000"/>
<rect x="567" y="434.8" width="1" height="5.2" fill="#ff0000"/>
<rect x="571" y="437.0" width="1" height="3.0" fill="#ff0000"/>
<rect x="575" y="438.0" width="1" height="2.0" fill="#ff0000"/>
<rect x="583" y="439" width="1" height="2.6" fill="#ff0000"/>
<rect x="587" y="439" width="1" height="5.7" fill="#ff0000"/>
<rect x="591" y="439" width="1" height="8.6" fill="#ff0000"/>
<rect x="595" y="439" width="1" height="9.8" fill="#ff0000"/>
<rect x="599" y="439" width="1" height="11.5" fill="#ff0000"/>
<rect x="603" y="439" width="1" height="11.9" fill="#ff0000"/>
<rect x="607" y="439" width="1" height="10.9" fill="#008000"/>
<rect x="611" y="439" width="1" height="9.8" fill="#008000"/>
<rect x="615" y="439" width="1" height="9.8" fill="#ff0000"/>
<rect x="619" y="439" width="1" height="10.8" fill="#008000"/>
<rect x="623" y="439" width="1" height="9.8" fill="#008000"/>
<rect x="627" y="439" width="1" height="9.2" fill="#008000"/>
<rect x="631" y="439" width="1" height="8.1" fill="#008000"/>
<rect x="635" y="439" width="1" height="4.7" fill="#008000"/>
<rect x="639" y="439" width="1" height="1.9" fill="#008000"/>
<rect x="647" y="438.0" width="1" height="2.0" fill="#008000"/>
<rect x="651" y="434.8" width="1" height="5.2" fill="#008000"/>
<rect x="655" y="431.8" width="1" height="8.2" fill="#008000"/>
<rect x="659" y="429.1" width="1" height="10.9" fill="#008000"/>
<rect x="663" y="428.0" width="1" height="12.0" fill="#008000"/>
<rect x="667" y="428.0" width="1" height="12.0" fill="#ff0000"/>
<rect x="671" y="429.1" width="1" height="10.9" fill="#ff0000"/>
<rect x="675" y="430.8" width="1" height="9.2" fill="#ff0000"/>
<rect x="679" y="433.3" width="1" height="6.7" fill="#ff0000"/>
<rect x="683" y="434.0" width="1" height="6.0" fill="#ff0000"/>
<rect x="687" y="435.9" width="1" height="4.1" fill="#ff0000"/>
<rect x="691" y="435.9" width="1" height="4.1" fill="#ff0000"/>
<rect x="695" y="437.0" width="1" height="3.0" fill="#ff0000"/>
<rect x="699" y="438.0" width="1" height="2.0" fill="#ff0000"/>
<rect x="707" y="439" width="1" height="1.9" fill="#ff0000"/>
</g>
<g fill="none" stroke="#000" stroke-width="1" shape-rendering="crispEdges">
<rect x="2.5" y="2.5" width="733" height="387"/>
<rect x="2.5" y="391.5" width="733" height="77"/>
<line x1="736" y1="23.5" x2="738" y2="23.5"/>
<line x1="736" y1="56.5" x2="738" y2="56.5"/>
<line x1="736" y1="89.5" x2="738" y2="89.5"/>
<line x1="736" y1="122.5" x2="738" y2="122.5"/>
<line x1="736" y1="155.5" x2="738" y2="155.5"/>
<line x1="736" y1="188.5" x2="738" y2="188.5"/>
<line x1="736" y1="221.5" x2="738" y2="221.5"/>
<line x1="736" y1="254.5" x2="738" y2="254.5"/>
<line x1="736" y1="287.5" x2="738" y2="287.5"/>
<line x1="736" y1="320.5" x2="738" y2="320.5"/>
<line x1="736" y1="353.5" x2="738" y2="353.5"/>
<line x1="736" y1="386.5" x2="738" y2="386.5"/>
<line x1="736" y1="393.5" x2="738" y2="393.5"/>
<line x1="736" y1="439.5" x2="738" y2="439.5"/>
<line x1="3.5" y1="468" x2="3.5" y2="472"/>
<line x1="67.5" y1="468" x2="67.5" y2="472"/>
<line x1="131.5" y1="468" x2="131.5" y2="472"/>
<line x1="195.5" y1="468" x2="195.5" y2="472"/>
<line x1="259.5" y1="468" x2="259.5" y2="472"/>
<line x1="323.5" y1="468" x2="323.5" y2="472"/>
<line x1="387.5" y1="468" x2="387.5" y2="472"/>
<line x1="451.5" y1="468" x2="451.5" y2="472"/>
<line x1="515.5" y1="468" x2="515.5" y2="472"/>
<line x1="579.5" y1="468" x2="579.5" y2="472"/>
<line x1="643.5" y1="468" x2="643.5" y2="472"/>
<line x1="707.5" y1="468" x2="707.5" y2="472"/>
</g>
<path d="M5.8 9.3 L13.2 9.3 L9.5 13.4 Z" fill="#000"/>
<text x="18.4" y="13.7" font-size="9.3" fill="#000" textLength="62.3" lengthAdjust="spacingAndGlyphs" stroke="#000" stroke-width="0.3">#Ethereum,M5</text>
<text x="87.3" y="13.7" font-size="9.3" fill="#000" textLength="140.2" lengthAdjust="spacingAndGlyphs" stroke="#000" stroke-width="0.3">3186.66 3187.05 3186.66 3187.05</text>
<text x="741.2" y="26.7" font-size="9.3" fill="#000" textLength="32.8" lengthAdjust="spacingAndGlyphs" stroke="#000" stroke-width="0.3">3300.40</text>
<text x="741.2" y="59.7" font-size="9.3" fill="#000" textLength="32.8" lengthAdjust="spacingAndGlyphs" stroke="#000" stroke-width="0.3">3268.90</text>
<text x="741.2" y="92.7" font-size="9.3" fill="#000" textLength="32.8" lengthAdjust="spacingAndGlyphs" stroke="#000" stroke-width="0.3">3238.30</text>
<text x="741.2" y="125.7" font-size="9.3" fill="#000" textLength="32.8" lengthAdjust="spacingAndGlyphs" stroke="#000" stroke-width="0.3">3207.60</text>
<text x="741.2" y="158.7" font-size="9.3" fill="#000" textLength="32.8" lengthAdjust="spacingAndGlyphs" stroke="#000" stroke-width="0.3">3176.20</text>
<text x="741.2" y="191.7" font-size="9.3" fill="#000" textLength="32.8" lengthAdjust="spacingAndGlyphs" stroke="#000" stroke-width="0.3">3144.70</text>
<text x="741.2" y="224.7" font-size="9.3" fill="#000" textLength="32.8" lengthAdjust="spacingAndGlyphs" stroke="#000" stroke-width="0.3">3114.10</text>
<text x="741.2" y="257.7" font-size="9.3" fill="#000" textLength="32.8" lengthAdjust="spacingAndGlyphs" stroke="#000" stroke-width="0.3">3082.60</text>
<text x="741.2" y="290.7" font-size="9.3" fill="#000" textLength="32.8" lengthAdjust="spacingAndGlyphs" stroke="#000" stroke-width="0.3">3051.10</text>
<text x="741.2" y="323.7" font-size="9.3" fill="#000" textLength="32.8" lengthAdjust="spacingAndGlyphs" stroke="#000" stroke-width="0.3">3020.50</text>
<text x="741.2" y="356.7" font-size="9.3" fill="#000" textLength="32.8" lengthAdjust="spacingAndGlyphs" stroke="#000" stroke-width="0.3">2989.00</text>
<text x="741.2" y="389.7" font-size="9.3" fill="#000" textLength="32.8" lengthAdjust="spacingAndGlyphs" stroke="#000" stroke-width="0.3">2958.40</text>
<rect x="737" y="24.0" width="41" height="10.8" fill="#007d00"/>
<text x="741.2" y="33.0" font-size="9.3" fill="#fff" textLength="32.6" lengthAdjust="spacingAndGlyphs" stroke="#fff" stroke-width="0.12">3293.39</text>
<rect x="737" y="112.0" width="41" height="10.8" fill="#007d00"/>
<text x="741.2" y="121.0" font-size="9.3" fill="#fff" textLength="32.6" lengthAdjust="spacingAndGlyphs" stroke="#fff" stroke-width="0.12">3210.71</text>
<rect x="737" y="138.0" width="41" height="10.8" fill="#000"/>
<text x="741.2" y="147.0" font-size="9.3" fill="#fff" textLength="32.6" lengthAdjust="spacingAndGlyphs" stroke="#fff" stroke-width="0.12">3187.05</text>
<rect x="737" y="160.0" width="41" height="10.8" fill="#ff0000"/>
<text x="741.2" y="169.0" font-size="9.3" fill="#fff" textLength="32.6" lengthAdjust="spacingAndGlyphs" stroke="#fff" stroke-width="0.12">3165.15</text>
<rect x="737" y="235.0" width="41" height="10.8" fill="#ff0000"/>
<text x="741.2" y="244.0" font-size="9.3" fill="#fff" textLength="32.6" lengthAdjust="spacingAndGlyphs" stroke="#fff" stroke-width="0.12">3095.13</text>
<text x="8.0" y="404.2" font-size="9.3" fill="#000" textLength="42.8" lengthAdjust="spacingAndGlyphs" stroke="#000" stroke-width="0.3">AO -1.751</text>
<text x="739.0" y="401.8" font-size="9.3" fill="#000" textLength="27.6" lengthAdjust="spacingAndGlyphs" stroke="#000" stroke-width="0.3">38.873</text>
<text x="739.3" y="443.0" font-size="9.3" fill="#000" textLength="17.3" lengthAdjust="spacingAndGlyphs" stroke="#000" stroke-width="0.3">0.00</text>
<text x="739.3" y="465.0" font-size="9.3" fill="#000" textLength="30.5" lengthAdjust="spacingAndGlyphs" stroke="#000" stroke-width="0.3">-23.318</text>
<text x="2.0" y="481.1" font-size="9.3" fill="#000" textLength="46.5" lengthAdjust="spacingAndGlyphs" stroke="#000" stroke-width="0.3">3 Dec 2025</text>
<text x="66.0" y="481.1" font-size="9.3" fill="#000" textLength="50.2" lengthAdjust="spacingAndGlyphs" stroke="#000" stroke-width="0.3">3 Dec 22:20</text>
<text x="130.0" y="481.1" font-size="9.3" fill="#000" textLength="50.2" lengthAdjust="spacingAndGlyphs" stroke="#000" stroke-width="0.3">4 Dec 00:40</text>
<text x="194.0" y="481.1" font-size="9.3" fill="#000" textLength="50.2" lengthAdjust="spacingAndGlyphs" stroke="#000" stroke-width="0.3">4 Dec 02:00</text>
<text x="258.0" y="481.1" font-size="9.3" fill="#000" textLength="50.2" lengthAdjust="spacingAndGlyphs" stroke="#000" stroke-width="0.3">4 Dec 03:20</text>
<text x="322.0" y="481.1" font-size="9.3" fill="#000" textLength="50.2" lengthAdjust="spacingAndGlyphs" stroke="#000" stroke-width="0.3">4 Dec 04:40</text>
<text x="386.0" y="481.1" font-size="9.3" fill="#000" textLength="50.2" lengthAdjust="spacingAndGlyphs" stroke="#000" stroke-width="0.3">4 Dec 06:00</text>
<text x="450.0" y="481.1" font-size="9.3" fill="#000" textLength="50.2" lengthAdjust="spacingAndGlyphs" stroke="#000" stroke-width="0.3">4 Dec 07:20</text>
<text x="514.0" y="481.1" font-size="9.3" fill="#000" textLength="50.2" lengthAdjust="spacingAndGlyphs" stroke="#000" stroke-width="0.3">4 Dec 08:40</text>
<text x="578.0" y="481.1" font-size="9.3" fill="#000" textLength="50.2" lengthAdjust="spacingAndGlyphs" stroke="#000" stroke-width="0.3">4 Dec 10:00</text>
<text x="642.0" y="481.1" font-size="9.3" fill="#000" textLength="50.2" lengthAdjust="spacingAndGlyphs" stroke="#000" stroke-width="0.3">4 Dec 11:30</text>
<text x="706.0" y="481.1" font-size="9.3" fill="#000" textLength="50.2" lengthAdjust="spacingAndGlyphs" stroke="#000" stroke-width="0.3">4 Dec 12:55</text>
<rect x="0" y="444" width="180" height="45" fill="#666" fill-opacity="0.78"/>
<defs><clipPath id="gc"><rect x="0" y="440" width="60" height="33.2"/></clipPath>
<mask id="gm" maskUnits="userSpaceOnUse" x="0" y="440" width="60" height="49"><rect x="0" y="440" width="60" height="49" fill="#fff"/><circle cx="24.1" cy="457" r="2.9" fill="#000"/><polyline points="15.2,459.2 20.55,464.9 20.55,475" fill="none" stroke="#000" stroke-width="2.9" stroke-linejoin="miter"/><polyline points="33.0,459.2 27.65,464.9 27.65,475" fill="none" stroke="#000" stroke-width="2.9" stroke-linejoin="miter"/></mask>
<filter id="thin" x="-5%" y="-5%" width="110%" height="110%"><feMorphology operator="erode" radius="0.38"/></filter></defs>
<g fill="#fff" fill-opacity="0.97" mask="url(#gm)"><g clip-path="url(#gc)">
<circle cx="24.10" cy="464.00" r="14.3"/>
<rect x="22.00" y="446.70" width="4.2" height="5.5" transform="rotate(0 24.10 464.00)"/>
<rect x="22.00" y="446.70" width="4.2" height="5.5" transform="rotate(30 24.10 464.00)"/>
<rect x="22.00" y="446.70" width="4.2" height="5.5" transform="rotate(60 24.10 464.00)"/>
<rect x="22.00" y="446.70" width="4.2" height="5.5" transform="rotate(90 24.10 464.00)"/>
<rect x="22.00" y="446.70" width="4.2" height="5.5" transform="rotate(120 24.10 464.00)"/>
<rect x="22.00" y="446.70" width="4.2" height="5.5" transform="rotate(150 24.10 464.00)"/>
<rect x="22.00" y="446.70" width="4.2" height="5.5" transform="rotate(180 24.10 464.00)"/>
<rect x="22.00" y="446.70" width="4.2" height="5.5" transform="rotate(210 24.10 464.00)"/>
<rect x="22.00" y="446.70" width="4.2" height="5.5" transform="rotate(240 24.10 464.00)"/>
<rect x="22.00" y="446.70" width="4.2" height="5.5" transform="rotate(270 24.10 464.00)"/>
<rect x="22.00" y="446.70" width="4.2" height="5.5" transform="rotate(300 24.10 464.00)"/>
<rect x="22.00" y="446.70" width="4.2" height="5.5" transform="rotate(330 24.10 464.00)"/>
</g>
<rect x="22.0" y="461" width="4.2" height="20.8"/>
</g>
<text x="48.4" y="471.9" font-size="29.7" fill="#fff" textLength="125.3" lengthAdjust="spacingAndGlyphs" fill-opacity="0.97" filter="url(#thin)">instaforex</text>
<text x="48.6" y="483.3" font-size="9.6" fill="#fff" textLength="101.0" lengthAdjust="spacingAndGlyphs" fill-opacity="0.9">Instant Forex Trading</text>
</svg>
</body></html>
